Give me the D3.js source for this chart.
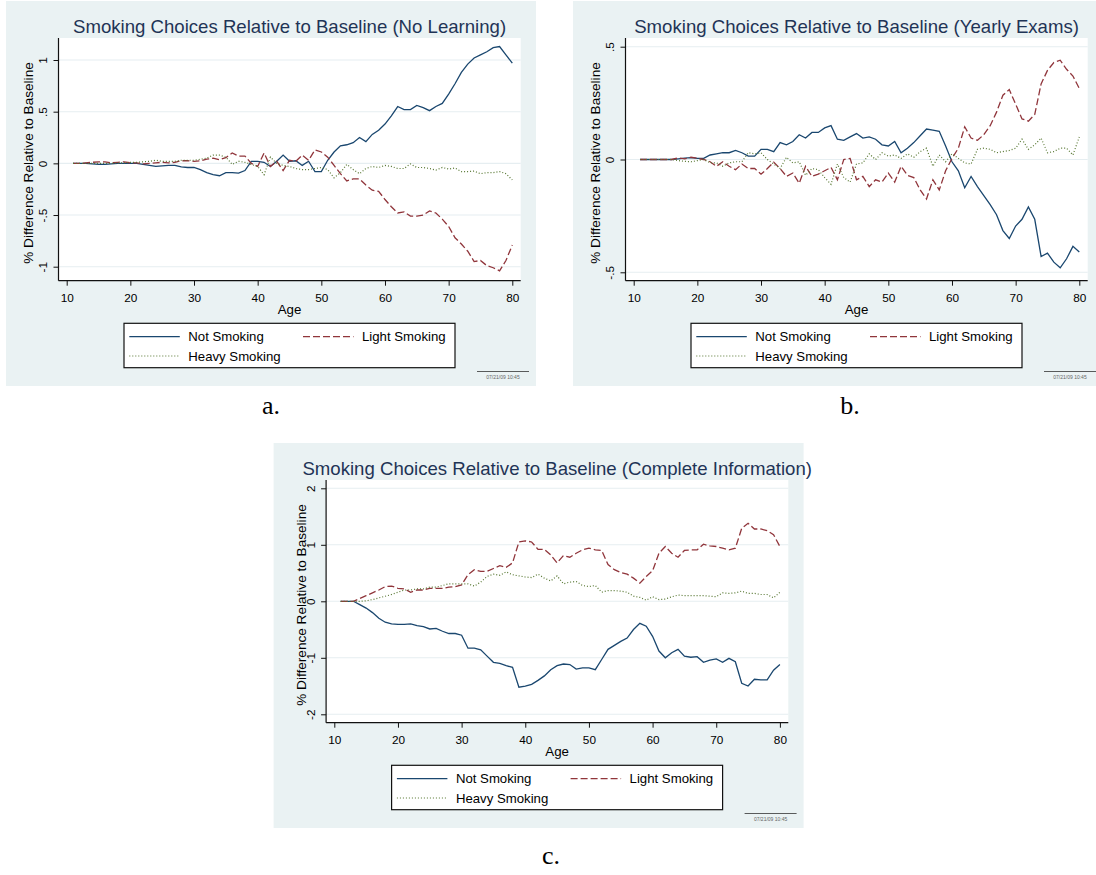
<!DOCTYPE html>
<html>
<head>
<meta charset="utf-8">
<script src="https://cdn.jsdelivr.net/npm/d3@7"></script>
<style>
body { margin: 0; background: #fff; }
svg { display: block; font-family: "Liberation Sans", Arial, sans-serif; }
</style>
</head>
<body>
<script>
// ages 11..80, one value per age
const ages = [11,12,13,14,15,16,17,18,19,20,21,22,23,24,25,26,27,28,29,30,
  31,32,33,34,35,36,37,38,39,40,41,42,43,44,45,46,47,48,49,50,
  51,52,53,54,55,56,57,58,59,60,61,62,63,64,65,66,67,68,69,70,
  71,72,73,74,75,76,77,78,79,80];
const xTicks = [10, 20, 30, 40, 50, 60, 70, 80];
const seriesNames = ["Not Smoking", "Light Smoking", "Heavy Smoking"];

// (a) No Learning
const notA = [0,0,0,-0.005,-0.01,-0.01,-0.005,0,0,0,
  0,-0.01,-0.02,-0.03,-0.025,-0.02,-0.02,-0.035,-0.04,-0.04,
  -0.06,-0.09,-0.11,-0.12,-0.09,-0.09,-0.095,-0.07,0.02,0.02,
  0.01,-0.03,0.02,0.08,0.02,0.025,-0.02,0.02,-0.08,-0.08,
  0.03,0.11,0.17,0.18,0.20,0.25,0.21,0.28,0.32,0.38,
  0.46,0.55,0.52,0.52,0.56,0.54,0.51,0.55,0.58,0.67,
  0.77,0.88,0.96,1.02,1.05,1.08,1.12,1.13,1.05,0.97];
const lightA = [0,0,0.005,0.01,0.015,0.015,0.005,0.01,0.015,0.005,
  0.005,-0.005,0,0.005,0.01,0.005,0.01,0.025,0.025,0.02,
  0.025,0.04,0.05,0.035,0.055,0.10,0.07,0.07,0,-0.03,
  0.10,-0.03,0.02,-0.07,0.03,0.02,0.08,0.03,0.13,0.11,
  0.06,-0.02,-0.10,-0.17,-0.15,-0.15,-0.21,-0.26,-0.27,-0.35,
  -0.42,-0.48,-0.47,-0.51,-0.51,-0.50,-0.46,-0.48,-0.54,-0.61,
  -0.72,-0.78,-0.85,-0.95,-0.94,-0.99,-1.01,-1.04,-0.94,-0.79];
const heavyA = [0,0,0,0,0,0,0,0.005,0.005,0.01,
  0.01,0.015,0.02,0.03,0.02,0.02,0.02,0.03,0.03,0.03,
  0.04,0.05,0.08,0.08,0.06,-0.01,0.02,0.01,-0.01,-0.03,
  -0.11,0.06,0,-0.02,-0.03,-0.05,-0.06,-0.06,-0.05,-0.04,
  -0.06,-0.14,-0.09,-0.01,-0.06,-0.10,-0.05,-0.03,-0.04,-0.02,
  -0.03,-0.05,-0.05,-0.005,-0.04,-0.04,-0.05,-0.065,-0.04,-0.055,
  -0.045,-0.08,-0.08,-0.075,-0.10,-0.09,-0.09,-0.08,-0.10,-0.16];

// (b) Yearly Exams
const notB = [0,0,0,0,0,0,0.003,0.006,0.008,0.005,
  0.005,0.02,0.025,0.03,0.03,0.04,0.03,0.015,0.015,0.045,
  0.045,0.035,0.075,0.065,0.08,0.11,0.095,0.12,0.12,0.14,
  0.15,0.09,0.085,0.10,0.115,0.095,0.10,0.09,0.065,0.06,
  0.08,0.03,0.05,0.075,0.105,0.135,0.13,0.125,0.06,-0.01,
  -0.05,-0.125,-0.075,-0.12,-0.16,-0.2,-0.245,-0.315,-0.35,-0.295,
  -0.265,-0.21,-0.265,-0.43,-0.415,-0.455,-0.48,-0.44,-0.385,-0.41];
const lightB = [0,0,0,0,0,0,0.007,0.003,0.01,0.005,
  0,-0.01,-0.03,-0.01,-0.03,-0.045,-0.02,-0.04,-0.04,-0.065,
  -0.04,-0.012,-0.04,-0.075,-0.06,-0.105,-0.03,-0.075,-0.065,-0.05,
  -0.035,-0.09,0,0.005,-0.09,-0.075,-0.12,-0.09,-0.10,-0.06,
  -0.10,-0.03,-0.07,-0.08,-0.135,-0.175,-0.09,-0.135,-0.05,0.005,
  0.05,0.145,0.095,0.085,0.11,0.15,0.21,0.285,0.31,0.245,
  0.18,0.17,0.20,0.335,0.395,0.43,0.44,0.40,0.37,0.315];
const heavyB = [0,0,0,0,0,0,-0.005,-0.008,-0.01,-0.005,
  0,-0.015,-0.015,-0.03,-0.015,-0.01,-0.01,0.03,0.025,0.03,
  0,-0.02,-0.04,0.01,-0.015,-0.01,-0.07,-0.04,-0.045,-0.08,
  -0.11,-0.02,-0.08,-0.10,-0.02,-0.015,0.025,0,0.03,0.015,
  0.02,0.005,0.025,0.01,0.035,0.05,-0.03,0.02,-0.01,0.025,
  0.005,-0.015,-0.02,0.045,0.05,0.045,0.03,0.035,0.04,0.05,
  0.09,0.045,0.065,0.095,0.03,0.035,0.05,0.05,0.02,0.10];

// (c) Complete Information
const notC = [0,0,0,-0.06,-0.12,-0.2,-0.3,-0.37,-0.4,-0.41,
  -0.41,-0.4,-0.43,-0.45,-0.49,-0.48,-0.53,-0.57,-0.57,-0.6,
  -0.83,-0.83,-0.86,-0.97,-1.08,-1.1,-1.14,-1.17,-1.52,-1.5,
  -1.47,-1.4,-1.32,-1.21,-1.14,-1.11,-1.12,-1.2,-1.18,-1.18,
  -1.21,-1.03,-0.85,-0.78,-0.71,-0.65,-0.5,-0.39,-0.44,-0.62,
  -0.88,-1.0,-0.91,-0.85,-0.97,-0.99,-0.98,-1.08,-1.04,-1.02,
  -1.08,-1.01,-1.07,-1.45,-1.5,-1.38,-1.39,-1.39,-1.22,-1.12];
const lightC = [0,0,0,0.05,0.1,0.15,0.2,0.26,0.27,0.23,
  0.22,0.16,0.2,0.2,0.23,0.23,0.23,0.25,0.26,0.29,
  0.47,0.56,0.53,0.53,0.58,0.63,0.6,0.68,1.05,1.07,
  1.05,0.92,0.92,0.82,0.68,0.81,0.78,0.85,0.91,0.94,
  0.91,0.9,0.65,0.56,0.51,0.48,0.41,0.32,0.44,0.54,
  0.85,0.97,0.85,0.78,0.9,0.91,0.91,1.01,0.98,0.97,
  0.94,0.91,0.94,1.29,1.38,1.28,1.28,1.25,1.18,0.97];
const heavyC = [0,0,0,0,0.01,0.03,0.06,0.09,0.12,0.16,
  0.2,0.2,0.22,0.22,0.25,0.25,0.28,0.31,0.31,0.31,
  0.31,0.27,0.34,0.44,0.48,0.46,0.52,0.47,0.45,0.43,
  0.42,0.48,0.41,0.36,0.45,0.31,0.34,0.35,0.28,0.26,
  0.28,0.16,0.19,0.19,0.18,0.16,0.09,0.07,0.02,0.08,
  0.03,0.04,0.08,0.11,0.1,0.1,0.1,0.1,0.09,0.08,
  0.15,0.14,0.15,0.18,0.14,0.14,0.12,0.12,0.06,0.16];

const yTicksA = [-1, -0.5, 0, 0.5, 1], yLabelsA = ["-1", "-.5", "0", ".5", "1"];
const yTicksB = [-0.5, 0, 0.5], yLabelsB = ["-.5", "0", ".5"];
const yTicksC = [-2, -1, 0, 1, 2], yLabelsC = ["-2", "-1", "0", "1", "2"];

const colors = ["#1a476f", "#90353b", "#55752f"];
const dashes = [null, "7,3", "1,2"];
const BG = "#eaf2f3";

const W = 1096, H = 875;
const svg = d3.select("body").append("svg").attr("width", W).attr("height", H);

// plot region inside each panel (panel-local px)
const L = 58.5, T = 38, R = 520.7, B = 280.7;

function panel(cfg) {
  const g = svg.append("g").attr("transform", `translate(${cfg.ox},${cfg.oy})`);

  g.append("rect").attr("x", 6).attr("y", 1).attr("width", 530).attr("height", 385).attr("fill", BG);
  g.append("rect").attr("x", L).attr("y", T).attr("width", R - L).attr("height", B - T).attr("fill", "#fff");

  const x = d3.scaleLinear().domain([10, 80]).range([66.7, 512.3]);
  const y = d3.scaleLinear().domain(cfg.yDomain).range(cfg.yRange);

  // grid
  g.selectAll(".grid").data(cfg.yTicks).join("line")
    .attr("class", "grid")
    .attr("x1", L).attr("x2", R)
    .attr("y1", d => y(d)).attr("y2", d => y(d))
    .attr("stroke", "#e6eef1").attr("stroke-width", 1.1);

  // series
  const line = d3.line().x((d, i) => x(ages[i])).y(d => y(d));
  cfg.series.forEach((s, k) => {
    g.append("path")
      .attr("d", line(s))
      .attr("fill", "none")
      .attr("stroke", colors[k])
      .attr("stroke-width", k == 2 ? 1.2 : 1.3)
      .attr("stroke-dasharray", dashes[k]);
  });

  // axis lines
  g.append("line").attr("x1", L).attr("x2", L).attr("y1", T).attr("y2", B).attr("stroke", "#111").attr("stroke-width", 1.2);
  g.append("line").attr("x1", L).attr("x2", R).attr("y1", B).attr("y2", B).attr("stroke", "#111").attr("stroke-width", 1.2);

  const xa = g.append("g")
    .attr("transform", `translate(0,${B})`)
    .call(d3.axisBottom(x).tickValues(xTicks).tickSize(5).tickFormat(d3.format("d")));
  xa.attr("font-family", null).attr("font-size", null).style("color", "#111");
  xa.select(".domain").remove();
  xa.selectAll("text").attr("y", 21).attr("dy", null).style("font-size", "11.8px").attr("fill", "#000");

  const ya = g.append("g")
    .attr("transform", `translate(${L},0)`)
    .call(d3.axisLeft(y).tickValues(cfg.yTicks).tickSize(5).tickFormat((d, i) => cfg.yLabels[i]));
  ya.attr("font-family", null).attr("font-size", null).style("color", "#111");
  ya.select(".domain").remove();
  ya.selectAll("text")
    .attr("x", null).attr("dy", null)
    .attr("transform", "translate(-11.3,0) rotate(-90)")
    .attr("text-anchor", "middle")
    .style("font-size", "11.8px").attr("fill", "#000");

  // titles
  g.append("text").attr("x", (L + R) / 2).attr("y", 33)
    .attr("text-anchor", "middle").attr("fill", "#1f3456")
    .style("font-size", "18.6px").text(cfg.title);
  g.append("text").attr("x", (L + R) / 2).attr("y", 314)
    .attr("text-anchor", "middle").style("font-size", "13.3px").text("Age");
  g.append("text")
    .attr("transform", `translate(${cfg.yTitleX},163) rotate(-90)`)
    .attr("dy", "0.35em").attr("text-anchor", "middle")
    .style("font-size", "13.6px").text("% Difference Relative to Baseline");

  // legend
  const lg = g.append("g");
  lg.append("rect").attr("x", 124).attr("y", 323.3).attr("width", 331).attr("height", 44.4)
    .attr("fill", "#fff").attr("stroke", "#111").attr("stroke-width", 1.2);
  const items = [
    { x: 129.3, y: 336.7 },
    { x: 303, y: 336.7 },
    { x: 129.3, y: 356 }
  ];
  items.forEach((it, k) => {
    lg.append("line").attr("x1", it.x).attr("x2", it.x + 50.5)
      .attr("y1", it.y).attr("y2", it.y)
      .attr("stroke", colors[k]).attr("stroke-width", k == 2 ? 1.2 : 1.3)
      .attr("stroke-dasharray", dashes[k]);
    lg.append("text").attr("x", it.x + 59).attr("y", it.y).attr("dy", "0.35em")
      .style("font-size", "13.2px").text(seriesNames[k]);
  });

  // small stamp at lower right
  g.append("line").attr("x1", 477).attr("x2", 529).attr("y1", 371.5).attr("y2", 371.5)
    .attr("stroke", "#333").attr("stroke-width", 0.8);
  g.append("text").attr("x", 503).attr("y", 378.5).attr("text-anchor", "middle")
    .attr("fill", "#666").style("font-size", "5px").text("07/21/09 10:45");
}

panel({
  ox: 0, oy: 0,
  title: "Smoking Choices Relative to Baseline (No Learning)",
  yDomain: [-1, 1], yRange: [266.7, 60],
  yTicks: yTicksA, yLabels: yLabelsA, yTitleX: 28.5,
  series: [notA, lightA, heavyA]
});
panel({
  ox: 567, oy: 0,
  title: "Smoking Choices Relative to Baseline (Yearly Exams)",
  yDomain: [-0.5, 0.5], yRange: [272.3, 46.7],
  yTicks: yTicksB, yLabels: yLabelsB, yTitleX: 28.5,
  series: [notB, lightB, heavyB]
});
panel({
  ox: 267.6, oy: 442,
  title: "Smoking Choices Relative to Baseline (Complete Information)",
  yDomain: [-2, 2], yRange: [272.3, 46.3],
  yTicks: yTicksC, yLabels: yLabelsC, yTitleX: 33.4,
  series: [notC, lightC, heavyC]
});

// sub-figure letters
const letters = [["a.", 271, 414], ["b.", 850, 414], ["c.", 551, 864]];
svg.selectAll(".letter").data(letters).join("text")
  .attr("class", "letter")
  .attr("x", d => d[1]).attr("y", d => d[2])
  .attr("text-anchor", "middle")
  .style("font-family", "'Liberation Serif', 'Times New Roman', serif")
  .style("font-size", "26px")
  .text(d => d[0]);
</script>
</body>
</html>
